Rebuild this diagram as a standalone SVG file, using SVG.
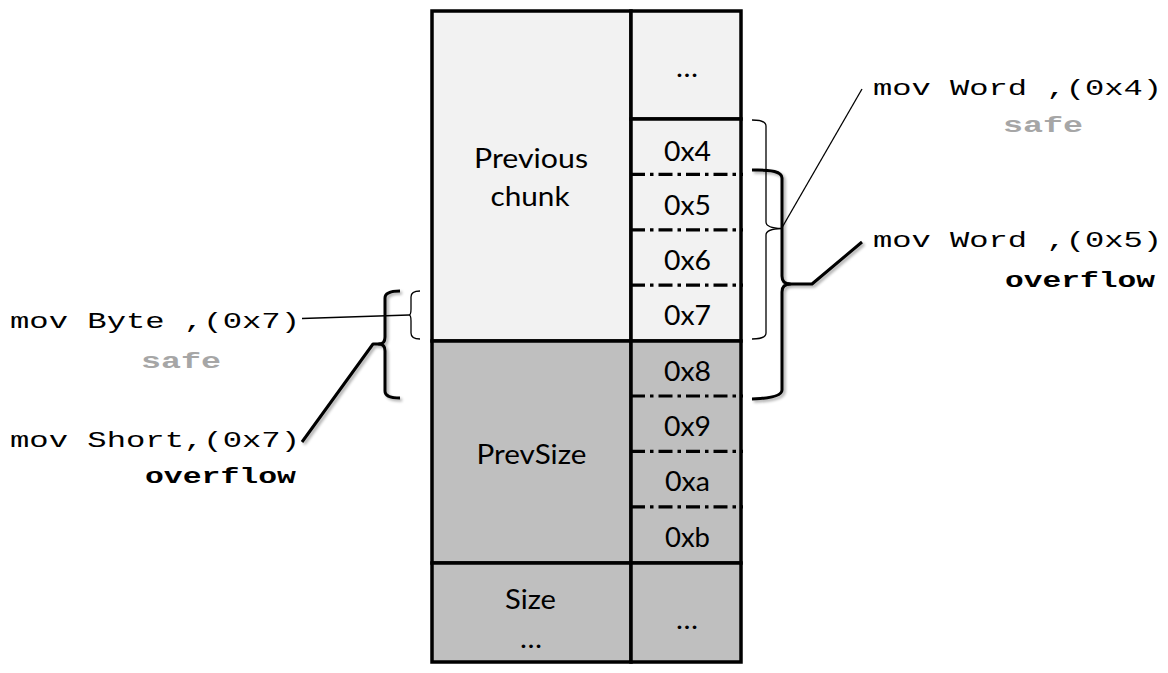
<svg xmlns="http://www.w3.org/2000/svg" width="1168" height="673" viewBox="0 0 1168 673">
  <style>
    .cell-light { fill: #f2f2f2; stroke: #000; stroke-width: 3.5; }
    .cell-dark { fill: #bfbfbf; stroke: #000; stroke-width: 3.5; }
    .sep { stroke: #000; stroke-width: 3.2; stroke-dasharray: 14 5 3.5 5; fill: none; }
    .lbl { font-family: Lato, "Open Sans", "DejaVu Sans", sans-serif; font-size: 27px; fill: #000; text-anchor: middle; }
    .code { font-family: "Liberation Mono", "Courier New", monospace; font-size: 22px; fill: #000; }
    .safe { font-family: "Liberation Mono", "Courier New", monospace; font-size: 22px; font-weight: bold; fill: #a6a6a6; }
    .ovf { font-family: "Liberation Mono", "Courier New", monospace; font-size: 22px; font-weight: bold; fill: #000; }
    .brace-thin { fill: none; stroke: #000; stroke-width: 1.3; }
    .brace-thick { fill: none; stroke: #000; stroke-width: 3; stroke-linejoin: round; }
    .lead-thin { fill: none; stroke: #000; stroke-width: 1.3; }
    .lead-thick { fill: none; stroke: #000; stroke-width: 3; stroke-linejoin: round; }
  </style>
  <defs>
    <filter id="soft-shadow" x="-20%" y="-20%" width="140%" height="140%">
      <feGaussianBlur in="SourceAlpha" stdDeviation="1.5"/>
      <feOffset dx="2" dy="2" result="blur"/>
      <feComponentTransfer><feFuncA type="linear" slope="0.35"/></feComponentTransfer>
      <feMerge><feMergeNode/><feMergeNode in="SourceGraphic"/></feMerge>
    </filter>
  </defs>

  <rect width="1168" height="673" fill="#fff"/>

  <!-- left column: chunk fields -->
  <g id="previous-chunk">
    <rect class="cell-light" x="432" y="11" width="199" height="330"/>
    <text class="lbl" x="531" y="168" textLength="114" lengthAdjust="spacingAndGlyphs">Previous</text>
    <text class="lbl" x="530" y="206" textLength="79" lengthAdjust="spacingAndGlyphs">chunk</text>
  </g>
  <g id="prev-size">
    <rect class="cell-dark" x="432" y="341" width="199" height="222"/>
    <text class="lbl" x="531.5" y="464" textLength="110" lengthAdjust="spacingAndGlyphs">PrevSize</text>
  </g>
  <g id="size">
    <rect class="cell-dark" x="432" y="563" width="199" height="99"/>
    <text class="lbl" x="530.5" y="609" textLength="51" lengthAdjust="spacingAndGlyphs">Size</text>
    <text class="lbl" x="531" y="648" textLength="22" lengthAdjust="spacingAndGlyphs">…</text>
  </g>

  <!-- right column: byte offsets -->
  <g id="bytes-top">
    <rect class="cell-light" x="631" y="11" width="110" height="108"/>
    <text class="lbl" x="687" y="77" textLength="22" lengthAdjust="spacingAndGlyphs">…</text>
  </g>
  <g id="bytes-prev">
    <rect class="cell-light" x="631" y="119" width="110" height="222"/>
    <text class="lbl" x="687.5" y="161" textLength="47" lengthAdjust="spacingAndGlyphs">0x4</text>
    <text class="lbl" x="687.5" y="215" textLength="47" lengthAdjust="spacingAndGlyphs">0x5</text>
    <text class="lbl" x="687.5" y="270" textLength="47" lengthAdjust="spacingAndGlyphs">0x6</text>
    <text class="lbl" x="687.5" y="325" textLength="47" lengthAdjust="spacingAndGlyphs">0x7</text>
    <line class="sep" x1="631" y1="174.4" x2="743" y2="174.4"/>
    <line class="sep" x1="631" y1="229.8" x2="743" y2="229.8"/>
    <line class="sep" x1="631" y1="285.2" x2="743" y2="285.2"/>
  </g>
  <g id="bytes-prevsize">
    <rect class="cell-dark" x="631" y="341" width="110" height="222"/>
    <text class="lbl" x="687.5" y="381" textLength="47" lengthAdjust="spacingAndGlyphs">0x8</text>
    <text class="lbl" x="687.5" y="436" textLength="47" lengthAdjust="spacingAndGlyphs">0x9</text>
    <text class="lbl" x="687.5" y="491" textLength="45" lengthAdjust="spacingAndGlyphs">0xa</text>
    <text class="lbl" x="687.5" y="547" textLength="45" lengthAdjust="spacingAndGlyphs">0xb</text>
    <line class="sep" x1="631" y1="396" x2="743" y2="396"/>
    <line class="sep" x1="631" y1="451.4" x2="743" y2="451.4"/>
    <line class="sep" x1="631" y1="506.8" x2="743" y2="506.8"/>
  </g>
  <g id="bytes-size">
    <rect class="cell-dark" x="631" y="563" width="110" height="99"/>
    <text class="lbl" x="687" y="629" textLength="22" lengthAdjust="spacingAndGlyphs">…</text>
  </g>

  <!-- access annotations -->
  <g id="word-0x4">
    <text class="code" x="873" y="95" textLength="289" lengthAdjust="spacingAndGlyphs">mov Word ,(0x4)</text>
    <text class="safe" x="1003" y="132" textLength="80" lengthAdjust="spacingAndGlyphs">safe</text>
  </g>
  <g id="word-0x5">
    <text class="code" x="873" y="247" textLength="289" lengthAdjust="spacingAndGlyphs">mov Word ,(0x5)</text>
    <text class="ovf" x="1005" y="287" textLength="150" lengthAdjust="spacingAndGlyphs">overflow</text>
  </g>
  <g id="byte-0x7">
    <text class="code" x="10" y="328" textLength="290" lengthAdjust="spacingAndGlyphs">mov Byte ,(0x7)</text>
    <text class="safe" x="141" y="368" textLength="80" lengthAdjust="spacingAndGlyphs">safe</text>
  </g>
  <g id="short-0x7">
    <text class="code" x="10" y="447" textLength="290" lengthAdjust="spacingAndGlyphs">mov Short,(0x7)</text>
    <text class="ovf" x="145" y="483" textLength="151" lengthAdjust="spacingAndGlyphs">overflow</text>
  </g>

  <!-- braces and leader lines -->
  <g id="connectors">
    <!-- word at 0x4: bytes 0x4..0x7 -->
    <path class="brace-thin" d="M752,120 Q766,120 766,126 L766,222 Q766,228 781.5,228.5 Q766,229 766,235 L766,333 Q766,339 752,339"/>
    <line class="lead-thin" x1="781.5" y1="228.5" x2="862" y2="89"/>
    <!-- word at 0x5: bytes 0x5..0x8 -->
    <g filter="url(#soft-shadow)">
      <path class="brace-thick" d="M752,170 Q782,169 782,178 L782,276 Q782,284 790,284 Q782,284 782,292 L782,390 Q782,398 752,399"/>
      <polyline class="lead-thick" points="788,284 812,284 862,242"/>
    </g>
    <!-- byte at 0x7 -->
    <path class="brace-thin" d="M420,291 Q411,291 411,297 L411,309 Q411,315 409,315 Q411,315 411,321 L411,333 Q411,339 420,339"/>
    <line class="lead-thin" x1="302" y1="318.5" x2="409" y2="315"/>
    <!-- short at 0x7: bytes 0x7..0x8 -->
    <g filter="url(#soft-shadow)">
      <path class="brace-thick" d="M400,291 Q385,291 385,298 L385,337 Q385,344 379,344 Q385,344 385,351 L385,391 Q385,398 400,398"/>
      <polyline class="lead-thick" points="381,344 373,344 302,442"/>
    </g>
  </g>
</svg>
